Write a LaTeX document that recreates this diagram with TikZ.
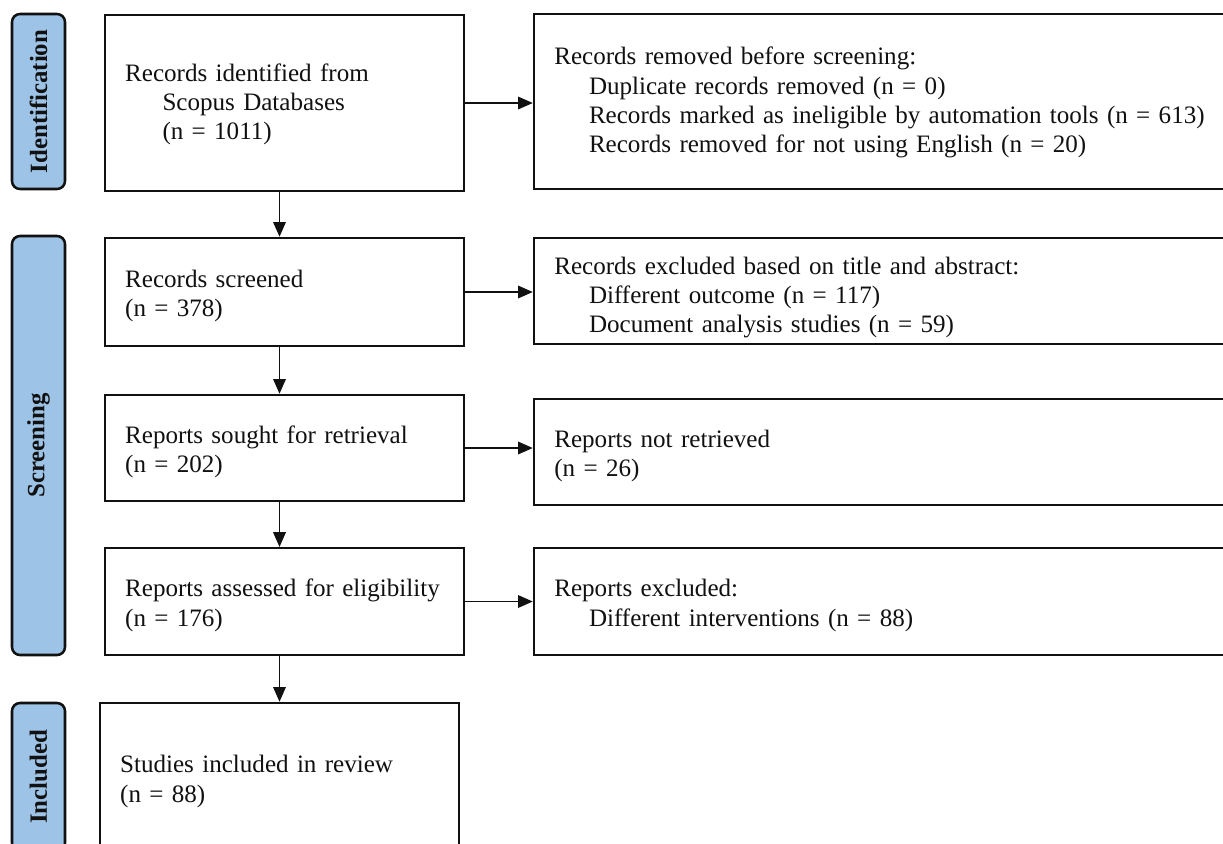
\documentclass[tikz,border=0pt]{standalone}
\usepackage{fontspec}
\setmainfont{Liberation Serif}
\usetikzlibrary{arrows.meta, positioning, calc}
\definecolor{ink}{HTML}{111111}
\definecolor{phase}{HTML}{9DC3E6}
\tikzset{
  font=\fontsize{18.8}{22}\selectfont,
  >={Triangle[length=11pt, width=9.5pt]},
  %
  box/.style={
    draw=ink, line width=1.9pt, fill=white, align=left, text=ink,
    inner xsep=15pt, inner ysep=0pt, text height=19pt,
  },
  lbox/.style={box, minimum width=269.25pt, text width=239pt},
  rbox/.style={box, minimum width=529.5pt, text width=499pt},
  %
  phasebar/.style={draw=ink, line width=1.9pt, fill=phase, rounded corners=6pt,
                   minimum width=39.75pt, inner sep=0pt},
  phaselbl/.style={font=\fontsize{18.6}{20}\selectfont\bfseries, text=ink,
                   rotate=90},
  %
  flow/.style={draw=ink, line width=0.8pt, ->},
}
\newcommand{\ind}{\hspace*{26pt}}

\begin{document}
\begin{tikzpicture}[x=0.75pt, y=-0.75pt]
\useasboundingbox (0,0) rectangle (1223,843);
\clip (0,0) rectangle (1223,843);

% ---------------------------------------------------------------- phases
\node[phasebar, minimum height=131.25pt] (pid) at (38.5,101.5) {};
\node[phaselbl] at (pid) {Identification};
\node[phasebar, minimum height=314.25pt] (pscr) at (38.5,445.5) {};
\node[phaselbl] at (pscr) {Screening};
\node[phasebar, minimum height=111pt] (pinc) at (38.5,777) {};
\node[phaselbl] at (pinc) {Included};

% ---------------------------------------------------------------- main column
\node[lbox, minimum height=132pt, text height=15pt] (ident) at (284.5,103)
  {Records identified from\\\hspace*{28pt}Scopus Databases\\\hspace*{28pt}(n = 1011)};
\node[lbox, minimum height=81pt] (screen) at (284.5,292)
  {Records screened\\(n = 378)};
\node[lbox, minimum height=79.5pt] (sought) at (284.5,448)
  {Reports sought for retrieval\\(n = 202)};
\node[lbox, minimum height=80pt] (assess) at (284.5,601.5)
  {Reports assessed for eligibility\\(n = 176)};
\node[lbox, minimum height=115.5pt, text height=15pt] (incl) at (279.5,780)
  {Studies included in review\\(n = 88)};

% ---------------------------------------------------------------- exclusions
\node[rbox, minimum height=131.25pt, text height=15pt] (removed) at (887,101.5)
  {Records removed before screening:\\
   \ind Duplicate records removed (n = 0)\\
   \ind Records marked as ineligible by automation tools (n = 613)\\
   \ind Records removed for not using English (n = 20)};
\node[rbox, minimum height=79.5pt, text height=23pt] (excl) at (887,291)
  {Records excluded based on title and abstract:\\
   \ind Different outcome (n = 117)\\
   \ind Document analysis studies (n = 59)};
\node[rbox, minimum height=79.5pt] (notret) at (887,452)
  {Reports not retrieved\\(n = 26)};
\node[rbox, minimum height=80pt] (rexcl) at (887,601.5)
  {Reports excluded:\\
   \ind Different interventions (n = 88)};

% ---------------------------------------------------------------- arrows
\draw[flow] (ident.south -| incl.north) -- (screen.north -| incl.north);
\draw[flow] (screen.south -| incl.north) -- (sought.north -| incl.north);
\draw[flow] (sought.south -| incl.north) -- (assess.north -| incl.north);
\draw[flow] (assess.south -| incl.north) -- (incl.north);

\foreach \a/\b in {ident/removed, screen/excl, sought/notret, assess/rexcl}
  { \draw[flow] (\a.east) -- (\a.east -| \b.west); }

\end{tikzpicture}
\end{document}
